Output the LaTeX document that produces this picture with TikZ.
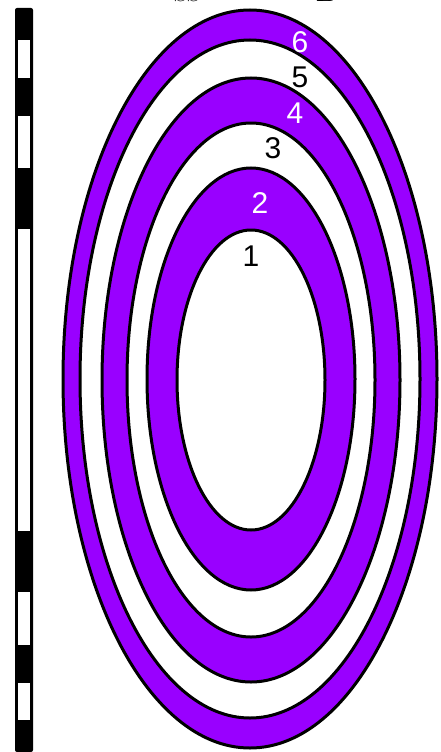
\documentclass[tikz,border=0pt]{standalone}
\usepackage{fontspec}
\newfontfamily\lblfont{Liberation Sans}
\definecolor{ringpurple}{RGB}{153,0,255}
\begin{document}
\begin{tikzpicture}[x=1pt,y=-1pt,
  ring/.style={draw=black,line width=3pt},
  purplering/.style={ring,fill=ringpurple},
  whitering/.style={ring,fill=white},
  lbl/.style={font=\lblfont\fontsize{30}{30}\selectfont,inner sep=0pt},
  toptxt/.style={font=\fontsize{36}{36}\selectfont,inner sep=0pt,anchor=base}]
\useasboundingbox (0,0) rectangle (440,752);
% left scale bar
\fill[black,rounded corners=2pt] (15,752) -- (15,8) -- (33,8) -- (33,752) -- cycle;
\fill[white] (18,40) rectangle (30,78);
\fill[white] (18,116) rectangle (30,168);
\fill[white] (18,229) rectangle (30,531);
\fill[white] (18,592) rectangle (30,645);
\fill[white] (18,683) rectangle (30,720);
% rings
\draw[purplering] (250,379) ellipse [x radius=187pt, y radius=369pt];
\draw[whitering]  (250,379) ellipse [x radius=170pt, y radius=339pt];
\draw[purplering] (251,380) ellipse [x radius=149pt, y radius=302pt];
\draw[whitering]  (251,380) ellipse [x radius=124pt, y radius=257pt];
\draw[purplering] (251,379) ellipse [x radius=104pt, y radius=211pt];
\draw[whitering]  (251,380) ellipse [x radius=74pt, y radius=150pt];
% labels
\node[lbl,text=white] (l6) at (300,42) {6};
\node[lbl,text=black] (l5) at (300,77) {5};
\node[lbl,text=white] (l4) at (295,113) {4};
\node[lbl,text=black] (l3) at (273,148) {3};
\node[lbl,text=white] (l2) at (260,203) {2};
\node[lbl,text=black] (l1) at (251,256) {1};
% clipped title remnants
\node[toptxt] (tss) at (187,2) {ss};
\node[toptxt] (tb) at (327,2) {B};
\end{tikzpicture}
\end{document}
